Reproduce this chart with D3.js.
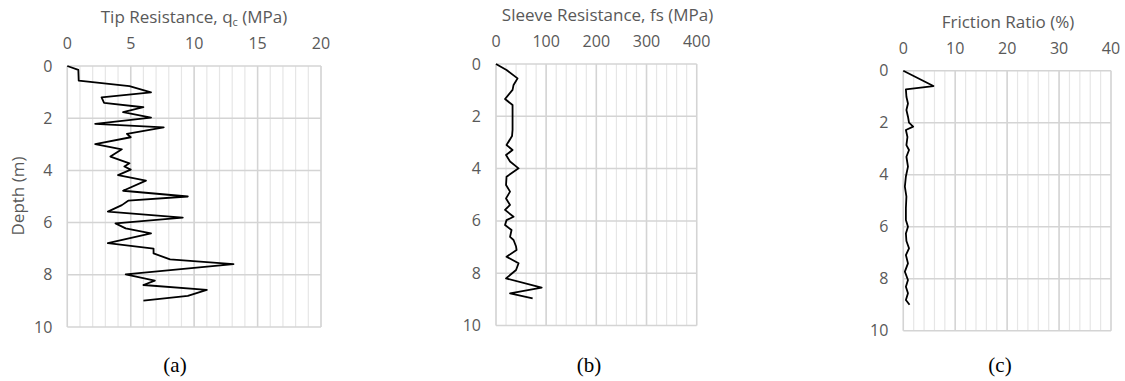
<!DOCTYPE html>
<html>
<head>
<meta charset="utf-8">
<script src="https://cdn.jsdelivr.net/npm/d3@7"></script>
<style>
  html, body { margin: 0; padding: 0; background: #fff; }
  svg { display: block; }
  .tick-label, .axis-title { font-family: "Open Sans", sans-serif; fill: #595959; }
  .panel-label { font-family: "Liberation Serif", "Times New Roman", serif; fill: #000; }
</style>
</head>
<body>
<svg id="chart" width="1125" height="381"></svg>
<script>
// Cone penetration test profile: depth below ground (m)
const depthTicks = [0, 2, 4, 6, 8, 10];

// (a) Tip resistance qc (MPa)
const tipDepth = [0, 0.15, 0.56, 0.77, 1.01, 1.2, 1.41, 1.58, 1.77, 1.98, 2.22, 2.35, 2.6, 2.73, 2.99, 3.19, 3.47, 3.73, 3.85, 3.97, 4.18, 4.39, 4.78, 5.0, 5.16, 5.33, 5.58, 5.81, 6.03, 6.22, 6.41, 6.79, 7.0, 7.18, 7.41, 7.59, 7.98, 8.22, 8.39, 8.58, 8.81, 8.99];
const tipQc    = [0, 0.87, 0.9, 4.9, 6.6, 2.7, 2.9, 6.0, 4.4, 6.6, 2.2, 7.6, 4.7, 5.0, 2.2, 4.3, 3.4, 4.9, 4.5, 5.0, 4.0, 6.2, 4.4, 9.5, 4.8, 4.3, 3.2, 9.1, 3.8, 4.6, 6.6, 3.2, 6.8, 6.8, 8.1, 13.1, 4.6, 6.9, 6.0, 11.0, 9.5, 6.0];
const tipTicks = [0, 5, 10, 15, 20];

// (b) Sleeve resistance fs
const sleeveDepth = [0, 0.23, 0.55, 0.8, 0.99, 1.34, 1.57, 1.95, 2.52, 2.75, 3.1, 3.29, 3.48, 3.73, 3.99, 4.31, 4.63, 4.88, 5.14, 5.39, 5.58, 5.84, 5.97, 6.16, 6.35, 6.61, 6.73, 6.98, 7.11, 7.37, 7.62, 7.88, 8.2, 8.55, 8.77, 8.96];
const sleeveFs    = [0, 21, 43, 35, 33, 18, 33, 33, 33, 32, 21, 33, 20, 28, 45, 21, 20, 28, 20, 28, 18, 35, 21, 18, 31, 28, 35, 40, 41, 21, 45, 40, 20, 91, 28, 73];
const sleeveTicks = [0, 100, 200, 300, 400];

// (c) Friction ratio (%)
const frDepth = [0, 0.59, 0.72, 1.0, 1.26, 1.51, 1.77, 2.0, 2.15, 2.28, 2.55, 2.86, 3.05, 3.31, 3.69, 4.07, 4.46, 4.84, 5.29, 5.74, 6.0, 6.26, 6.55, 6.83, 7.09, 7.41, 7.73, 8.05, 8.31, 8.56, 8.82, 9.0];
const frRatio = [0, 5.8, 0.5, 0.6, 0.9, 0.6, 0.9, 1.1, 1.9, 0.5, 0.8, 0.6, 1.1, 0.6, 0.9, 0.5, 0.3, 0.6, 0.5, 0.5, 0.9, 0.5, 0.6, 1.1, 0.5, 0.9, 0.3, 0.9, 0.5, 0.9, 0.5, 1.2];
const frTicks = [0, 10, 20, 30, 40];

const svg = d3.select("#chart");

function drawPanel(cfg) {
  const x = d3.scaleLinear().domain([cfg.ticks[0], cfg.ticks[cfg.ticks.length - 1]]).range([cfg.left, cfg.right]);
  const y = d3.scaleLinear().domain([depthTicks[0], depthTicks[depthTicks.length - 1]]).range([cfg.top, cfg.bottom]);
  const g = svg.append("g");

  // minor vertical gridlines
  g.append("g").selectAll("line")
    .data(d3.range(x.domain()[0], x.domain()[1] + 1e-9, cfg.minor))
    .join("line")
    .attr("x1", d => x(d)).attr("x2", d => x(d))
    .attr("y1", y(0)).attr("y2", y(10))
    .attr("stroke", "#e6e6e6").attr("stroke-width", 1.2);

  // major gridlines
  g.append("g").selectAll("line")
    .data(cfg.ticks)
    .join("line")
    .attr("x1", d => x(d)).attr("x2", d => x(d))
    .attr("y1", y(0)).attr("y2", y(10))
    .attr("stroke", "#d4d4d4").attr("stroke-width", 1.5);
  g.append("g").selectAll("line")
    .data(depthTicks)
    .join("line")
    .attr("x1", x.range()[0]).attr("x2", x.range()[1])
    .attr("y1", d => y(d)).attr("y2", d => y(d))
    .attr("stroke", "#d4d4d4").attr("stroke-width", 1.5);

  // tick labels
  g.append("g").selectAll("text")
    .data(cfg.ticks)
    .join("text")
    .attr("class", "tick-label")
    .attr("x", d => x(d)).attr("y", cfg.top - 17)
    .attr("text-anchor", "middle")
    .attr("font-size", 16)
    .text(d => d);
  g.append("g").selectAll("text")
    .data(depthTicks)
    .join("text")
    .attr("class", "tick-label")
    .attr("x", cfg.left - 15).attr("y", d => y(d) + 5.5)
    .attr("text-anchor", "end")
    .attr("font-size", 16)
    .text(d => d);

  // axis title
  const t = g.append("text")
    .attr("class", "axis-title")
    .attr("x", cfg.titleX).attr("y", cfg.top - 43)
    .attr("text-anchor", "middle")
    .attr("font-size", 17);
  cfg.title(t);

  // profile line
  const pts = cfg.depth.map((d, i) => [cfg.values[i], d]);
  g.append("path")
    .datum(pts)
    .attr("fill", "none")
    .attr("stroke", "#000")
    .attr("stroke-width", 1.8)
    .attr("stroke-linejoin", "round")
    .attr("d", d3.line().x(p => x(p[0])).y(p => y(p[1])));

  // panel caption
  g.append("text")
    .attr("class", "panel-label")
    .attr("x", cfg.captionX).attr("y", 372)
    .attr("text-anchor", "middle")
    .attr("font-size", 21)
    .text(cfg.caption);
}

drawPanel({
  depth: tipDepth, values: tipQc, ticks: tipTicks, minor: 1,
  left: 67.3, right: 321, top: 66, bottom: 327,
  titleX: 194, captionX: 175, caption: "(a)",
  title: t => {
    t.append("tspan").text("Tip Resistance, q");
    t.append("tspan").attr("font-size", 11).attr("dy", 3).text("c");
    t.append("tspan").attr("dy", -3).text(" (MPa)");
  }
});

drawPanel({
  depth: sleeveDepth, values: sleeveFs, ticks: sleeveTicks, minor: 20,
  left: 496, right: 696.7, top: 64, bottom: 325.5,
  titleX: 607.5, captionX: 589, caption: "(b)",
  title: t => t.text("Sleeve Resistance, fs (MPa)")
});

drawPanel({
  depth: frDepth, values: frRatio, ticks: frTicks, minor: 2,
  left: 903.3, right: 1111, top: 70.7, bottom: 330.7,
  titleX: 1008, captionX: 1000, caption: "(c)",
  title: t => t.text("Friction Ratio (%)")
});

// shared depth axis title
svg.append("text")
  .attr("class", "axis-title")
  .attr("transform", "translate(24,196) rotate(-90)")
  .attr("text-anchor", "middle")
  .attr("font-size", 17)
  .text("Depth (m)");
</script>
</body>
</html>
